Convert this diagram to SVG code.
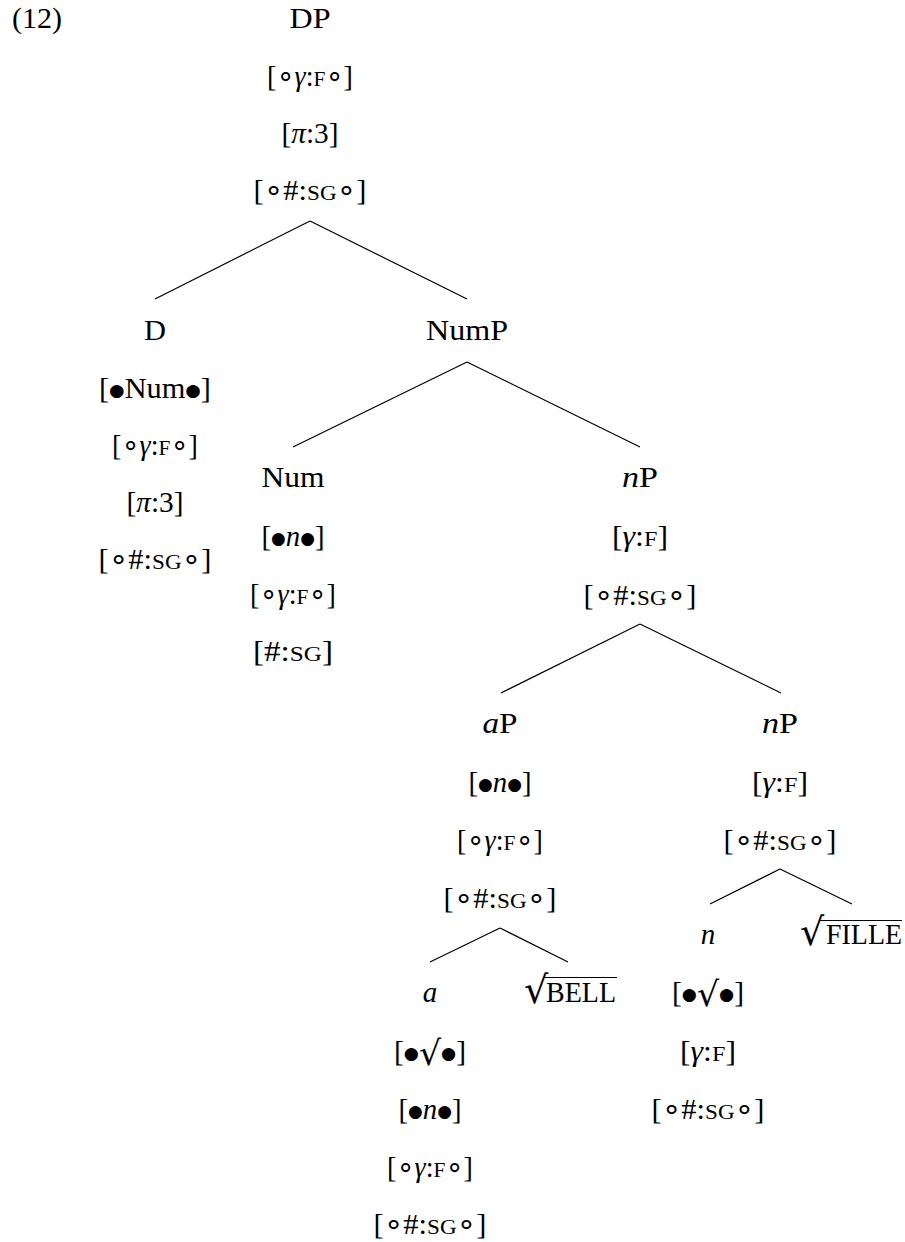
<svg xmlns="http://www.w3.org/2000/svg" width="905" height="1242" viewBox="0 0 905 1242">
<style>
text{font-family:"Liberation Serif","DejaVu Serif",serif;font-size:29px;fill:#000;text-anchor:middle}
.i{font-style:italic}
.sc{font-size:22px}
.o{font-family:"DejaVu Sans",sans-serif;font-size:30px}
.b{font-family:"DejaVu Sans",sans-serif;font-size:17px}
.r{font-family:"DejaVu Serif",serif;font-size:34px}
.R{font-family:"DejaVu Serif",serif;font-size:38px;text-anchor:start}
.s{text-anchor:start}
line{stroke:#000;stroke-width:1.2}
</style>
<rect width="905" height="1242" fill="#fff"/>
<text x="37" y="28" textLength="50" lengthAdjust="spacingAndGlyphs">(12)</text>
<g id="connectors">
<line x1="310" y1="221" x2="155" y2="299"/>
<line x1="310" y1="221" x2="467" y2="299"/>
<line x1="467" y1="362" x2="293" y2="447"/>
<line x1="467" y1="362" x2="640" y2="447"/>
<line x1="640" y1="624" x2="501" y2="693"/>
<line x1="640" y1="624" x2="781" y2="693"/>
<line x1="500" y1="928" x2="430" y2="962"/>
<line x1="500" y1="928" x2="568" y2="962"/>
<line x1="780" y1="869" x2="710" y2="904"/>
<line x1="780" y1="869" x2="852" y2="904"/>
</g>
<g id="DP">
<text x="310" y="28" textLength="41" lengthAdjust="spacingAndGlyphs">DP</text>
<text x="310" y="86" textLength="86" lengthAdjust="spacingAndGlyphs">[<tspan class="o">∘</tspan><tspan class="i">γ</tspan>:<tspan class="sc">F</tspan><tspan class="o">∘</tspan>]</text>
<text x="310" y="143" textLength="57" lengthAdjust="spacingAndGlyphs">[<tspan class="i">π</tspan>:3]</text>
<text x="310" y="200" textLength="113" lengthAdjust="spacingAndGlyphs">[<tspan class="o">∘</tspan>#:<tspan class="sc">SG</tspan><tspan class="o">∘</tspan>]</text>
</g>
<g id="D">
<text x="155" y="340" textLength="22" lengthAdjust="spacingAndGlyphs">D</text>
<text x="155" y="398" textLength="112" lengthAdjust="spacingAndGlyphs">[<tspan class="b" dy="-2">●</tspan><tspan dy="2">Num</tspan><tspan class="b" dy="-2">●</tspan><tspan dy="2">]</tspan></text>
<text x="155" y="455" textLength="86" lengthAdjust="spacingAndGlyphs">[<tspan class="o">∘</tspan><tspan class="i">γ</tspan>:<tspan class="sc">F</tspan><tspan class="o">∘</tspan>]</text>
<text x="155" y="512" textLength="57" lengthAdjust="spacingAndGlyphs">[<tspan class="i">π</tspan>:3]</text>
<text x="155" y="569" textLength="113" lengthAdjust="spacingAndGlyphs">[<tspan class="o">∘</tspan>#:<tspan class="sc">SG</tspan><tspan class="o">∘</tspan>]</text>
</g>
<g id="NumP">
<text x="467" y="340" textLength="82" lengthAdjust="spacingAndGlyphs">NumP</text>
</g>
<g id="Num">
<text x="293" y="487" textLength="63" lengthAdjust="spacingAndGlyphs">Num</text>
<text x="293" y="546" textLength="63" lengthAdjust="spacingAndGlyphs">[<tspan class="b" dy="-2">●</tspan><tspan class="i" dy="2">n</tspan><tspan class="b" dy="-2">●</tspan><tspan dy="2">]</tspan></text>
<text x="293" y="604" textLength="86" lengthAdjust="spacingAndGlyphs">[<tspan class="o">∘</tspan><tspan class="i">γ</tspan>:<tspan class="sc">F</tspan><tspan class="o">∘</tspan>]</text>
<text x="293" y="661" textLength="80" lengthAdjust="spacingAndGlyphs">[#:<tspan class="sc">SG</tspan>]</text>
</g>
<g id="nP1">
<text x="640" y="487" textLength="36" lengthAdjust="spacingAndGlyphs"><tspan class="i">n</tspan>P</text>
<text x="640" y="546" textLength="56" lengthAdjust="spacingAndGlyphs">[<tspan class="i">γ</tspan>:<tspan class="sc">F</tspan>]</text>
<text x="640" y="605" textLength="113" lengthAdjust="spacingAndGlyphs">[<tspan class="o">∘</tspan>#:<tspan class="sc">SG</tspan><tspan class="o">∘</tspan>]</text>
</g>
<g id="aP">
<text x="500" y="733" textLength="35" lengthAdjust="spacingAndGlyphs"><tspan class="i">a</tspan>P</text>
<text x="500" y="792" textLength="63" lengthAdjust="spacingAndGlyphs">[<tspan class="b" dy="-2">●</tspan><tspan class="i" dy="2">n</tspan><tspan class="b" dy="-2">●</tspan><tspan dy="2">]</tspan></text>
<text x="500" y="850" textLength="86" lengthAdjust="spacingAndGlyphs">[<tspan class="o">∘</tspan><tspan class="i">γ</tspan>:<tspan class="sc">F</tspan><tspan class="o">∘</tspan>]</text>
<text x="500" y="908" textLength="113" lengthAdjust="spacingAndGlyphs">[<tspan class="o">∘</tspan>#:<tspan class="sc">SG</tspan><tspan class="o">∘</tspan>]</text>
</g>
<g id="nP2">
<text x="780" y="733" textLength="36" lengthAdjust="spacingAndGlyphs"><tspan class="i">n</tspan>P</text>
<text x="780" y="792" textLength="56" lengthAdjust="spacingAndGlyphs">[<tspan class="i">γ</tspan>:<tspan class="sc">F</tspan>]</text>
<text x="780" y="850" textLength="113" lengthAdjust="spacingAndGlyphs">[<tspan class="o">∘</tspan>#:<tspan class="sc">SG</tspan><tspan class="o">∘</tspan>]</text>
</g>
<g id="a">
<text x="430" y="1002" class="i">a</text>
<text x="430" y="1061" textLength="72" lengthAdjust="spacingAndGlyphs">[<tspan class="b" dy="-2">●</tspan><tspan class="r" dy="6">√</tspan><tspan class="b" dy="-6">●</tspan><tspan dy="2">]</tspan></text>
<text x="430" y="1119" textLength="63" lengthAdjust="spacingAndGlyphs">[<tspan class="b" dy="-2">●</tspan><tspan class="i" dy="2">n</tspan><tspan class="b" dy="-2">●</tspan><tspan dy="2">]</tspan></text>
<text x="430" y="1177" textLength="86" lengthAdjust="spacingAndGlyphs">[<tspan class="o">∘</tspan><tspan class="i">γ</tspan>:<tspan class="sc">F</tspan><tspan class="o">∘</tspan>]</text>
<text x="430" y="1234" textLength="113" lengthAdjust="spacingAndGlyphs">[<tspan class="o">∘</tspan>#:<tspan class="sc">SG</tspan><tspan class="o">∘</tspan>]</text>
</g>
<g id="BELL">
<text x="524" y="1003" class="R">√</text>
<line x1="544" y1="977.5" x2="617" y2="977.5"/>
<text x="546" y="1002" class="s" textLength="70" lengthAdjust="spacingAndGlyphs">BELL</text>
</g>
<g id="n">
<text x="708" y="944" class="i">n</text>
<text x="708" y="1002" textLength="72" lengthAdjust="spacingAndGlyphs">[<tspan class="b" dy="-2">●</tspan><tspan class="r" dy="6">√</tspan><tspan class="b" dy="-6">●</tspan><tspan dy="2">]</tspan></text>
<text x="708" y="1061" textLength="56" lengthAdjust="spacingAndGlyphs">[<tspan class="i">γ</tspan>:<tspan class="sc">F</tspan>]</text>
<text x="708" y="1119" textLength="113" lengthAdjust="spacingAndGlyphs">[<tspan class="o">∘</tspan>#:<tspan class="sc">SG</tspan><tspan class="o">∘</tspan>]</text>
</g>
<g id="FILLE">
<text x="800" y="945" class="R">√</text>
<line x1="820" y1="920.5" x2="902" y2="920.5"/>
<text x="826" y="944" class="s" textLength="76" lengthAdjust="spacingAndGlyphs">FILLE</text>
</g>
</svg>
